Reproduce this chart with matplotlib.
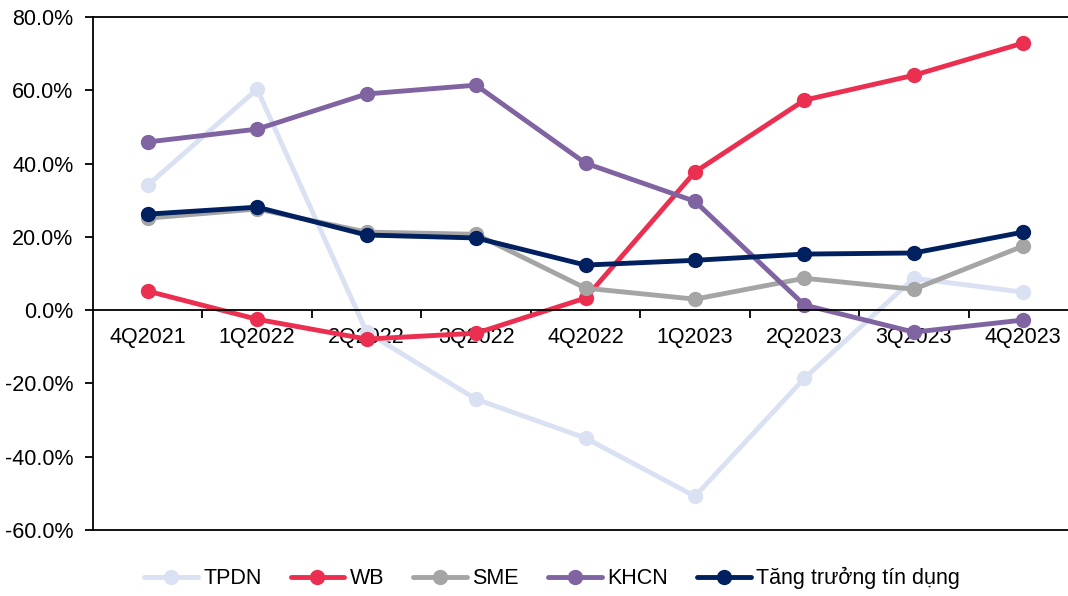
import matplotlib
matplotlib.use("Agg")
import matplotlib.pyplot as plt
from matplotlib.ticker import FuncFormatter, FixedLocator

plt.rcParams['font.family'] = ['Liberation Sans', 'DejaVu Sans']

categories = ["4Q2021", "1Q2022", "2Q2022", "3Q2022", "4Q2022",
              "1Q2023", "2Q2023", "3Q2023", "4Q2023"]
tpdn = [34.1, 60.3, -6.0, -24.3, -34.9, -50.8, -18.6, 8.7, 4.9]
wb = [5.2, -2.5, -7.9, -6.3, 3.3, 37.7, 57.3, 64.1, 72.9]
sme = [25.1, 27.6, 21.3, 20.7, 6.0, 3.0, 8.7, 5.7, 17.5]
khcn = [45.9, 49.4, 59.0, 61.4, 40.1, 29.7, 1.4, -6.0, -2.7]
tang_truong = [26.2, 28.1, 20.5, 19.7, 12.3, 13.6, 15.3, 15.6, 21.3]

series = [
    ("TPDN", tpdn, "#D9E1F2"),
    ("WB", wb, "#EB2F50"),
    ("SME", sme, "#A5A5A5"),
    ("KHCN", khcn, "#8064A2"),
    ("Tăng trưởng tín dụng", tang_truong, "#002060"),
]

FS = 15.5

fig = plt.figure(figsize=(10.68, 5.96), dpi=100)
ax = fig.add_axes([93/1068, 1-530/596, (1078-93)/1068, (530-17)/596])

x = list(range(len(categories)))
for name, vals, col in series:
    ax.plot(x, vals, color=col, lw=3.5, marker='o', markersize=10,
            label=name, solid_capstyle='round', zorder=2)

ax.set_xlim(-0.5, len(categories) - 0.5)
ax.set_ylim(-60, 80)
ax.set_yticks(range(-60, 81, 20))
ax.yaxis.set_major_formatter(FuncFormatter(lambda v, p: f"{v:.1f}%"))
ax.tick_params(axis='y', labelsize=FS, length=6, width=1.3, direction='out', pad=8)

ax.spines['right'].set_visible(False)
ax.spines['bottom'].set_position(('data', 0))
for s in ['left', 'top', 'bottom']:
    ax.spines[s].set_linewidth(1.3)
ax.axhline(-60, color='black', lw=1.3, clip_on=False, zorder=2.5)

ax.set_xticks(x)
ax.set_xticklabels(categories)
ax.tick_params(axis='x', which='major', length=0, labelsize=FS, pad=12)
ax.xaxis.set_minor_locator(FixedLocator([i + 0.5 for i in range(len(categories) - 1)]))
ax.tick_params(axis='x', which='minor', length=6, width=1.3, direction='out')

leg = fig.legend(loc='center', bbox_to_anchor=(552/1068, 1-578/596), ncol=5,
                 frameon=False, fontsize=FS, handlelength=2.5,
                 handletextpad=0.25, columnspacing=1.35)

fig.savefig("out.png", dpi=100)
